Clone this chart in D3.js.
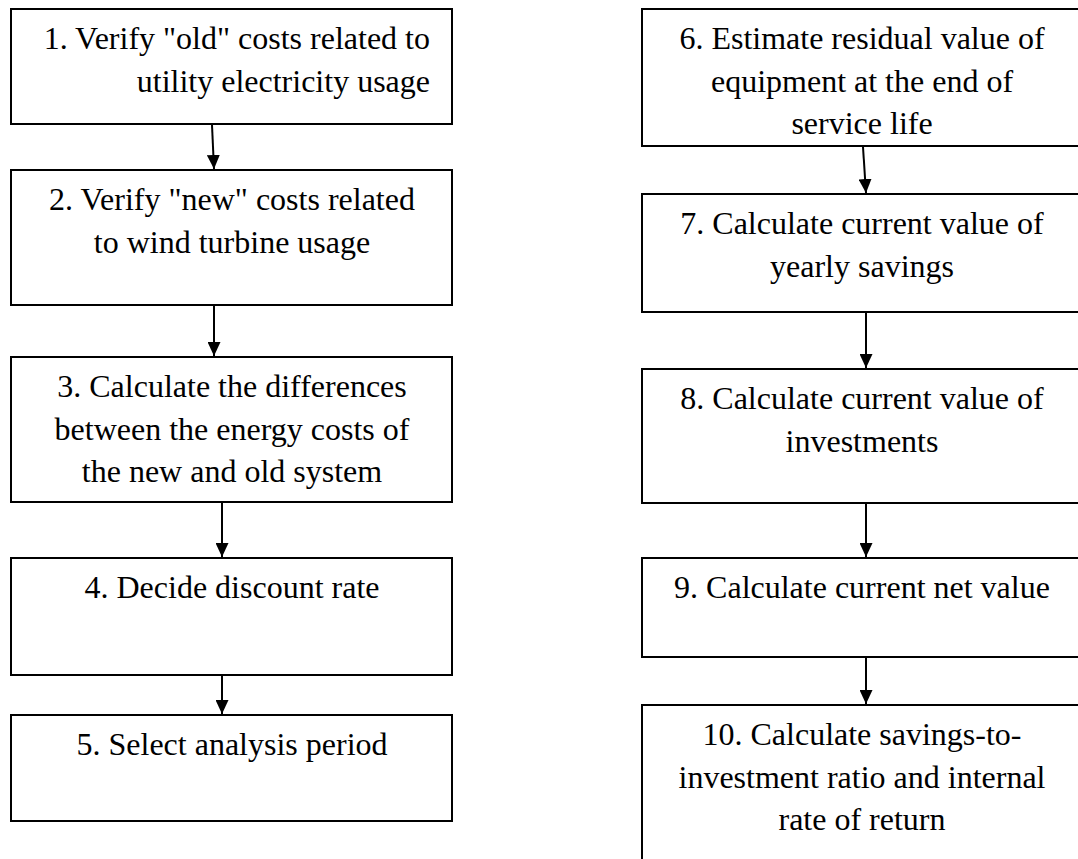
<!DOCTYPE html>
<html>
<head>
<meta charset="utf-8">
<script src="https://cdn.jsdelivr.net/npm/d3@7"></script>
<style>
  html, body { margin: 0; padding: 0; background: #fff; }
  svg { display: block; }
  .step { font-family: "Liberation Serif", "Times New Roman", Times, "DejaVu Serif", serif; }
</style>
</head>
<body>
<svg id="chart" width="1078" height="859"></svg>
<script>
// ---- data: flowchart steps (text lines) ----
const leftSteps = [
  ["1. Verify \"old\" costs related to", "utility electricity usage"],
  ["2. Verify \"new\" costs related", "to wind turbine usage"],
  ["3. Calculate the differences", "between the energy costs of", "the new and old system"],
  ["4. Decide discount rate"],
  ["5. Select analysis period"]
];
const rightSteps = [
  ["6. Estimate residual value of", "equipment at the end of", "service life"],
  ["7. Calculate current value of", "yearly savings"],
  ["8. Calculate current value of", "investments"],
  ["9. Calculate current net value"],
  ["10. Calculate savings-to-", "investment ratio and internal", "rate of return"]
];
// text alignment per step (box 1 is right-aligned in the source)
const leftAlign = ["end", "middle", "middle", "middle", "middle"];
const rightAlign = ["middle", "middle", "middle", "middle", "middle"];

// ---- layout (separate from data) ----
const leftBoxes = [[9,124],[170,305],[357,502],[558,675],[715,821]];
const rightBoxes = [[9,146],[194,312],[369,503],[558,657],[705,880]];
const leftX = [11, 452], rightX = [642, 1095];
const leftArrowX = [[212,214],[214,214],[222,222],[222,222]];
const rightArrowX = [[863,866],[866,866],[866,866],[866,866]];
const fontSize = 32, lineGap = 42.5, baselineOffset = 40;

const svg = d3.select("#chart");
svg.append("defs").append("marker")
  .attr("id","arrow").attr("viewBox","0 0 14 13")
  .attr("refX",14).attr("refY",6.5)
  .attr("markerWidth",14).attr("markerHeight",13)
  .attr("markerUnits","userSpaceOnUse")
  .attr("orient","auto")
  .append("path").attr("d","M0,0 L14,6.5 L0,13 Z").attr("fill","#000");

function column(steps, boxes, xr, align, arrowXs, centerX) {
  const g = svg.append("g");
  const rightTextX = 430;
  steps.forEach((lines, i) => {
    const [y0, y1] = boxes[i];
    g.append("rect")
      .attr("x", xr[0]).attr("y", y0)
      .attr("width", xr[1] - xr[0]).attr("height", y1 - y0)
      .attr("fill", "#fff").attr("stroke", "#000").attr("stroke-width", 2);
    const t = g.append("text")
      .attr("class", "step")
      .style("font-size", fontSize + "px").attr("fill", "#000")
      .attr("text-anchor", align[i]);
    lines.forEach((ln, j) => {
      t.append("tspan")
        .attr("x", align[i] === "end" ? rightTextX : centerX)
        .attr("y", y0 + baselineOffset + j * lineGap)
        .text(ln);
    });
  });
  arrowXs.forEach((ax, i) => {
    g.append("line")
      .attr("x1", ax[0]).attr("y1", boxes[i][1] + 1)
      .attr("x2", ax[1]).attr("y2", boxes[i+1][0] - 1)
      .attr("stroke", "#000").attr("stroke-width", 2)
      .attr("marker-end", "url(#arrow)");
  });
}
column(leftSteps, leftBoxes, leftX, leftAlign, leftArrowX, 232);
column(rightSteps, rightBoxes, rightX, rightAlign, rightArrowX, 862);
</script>
</body>
</html>
